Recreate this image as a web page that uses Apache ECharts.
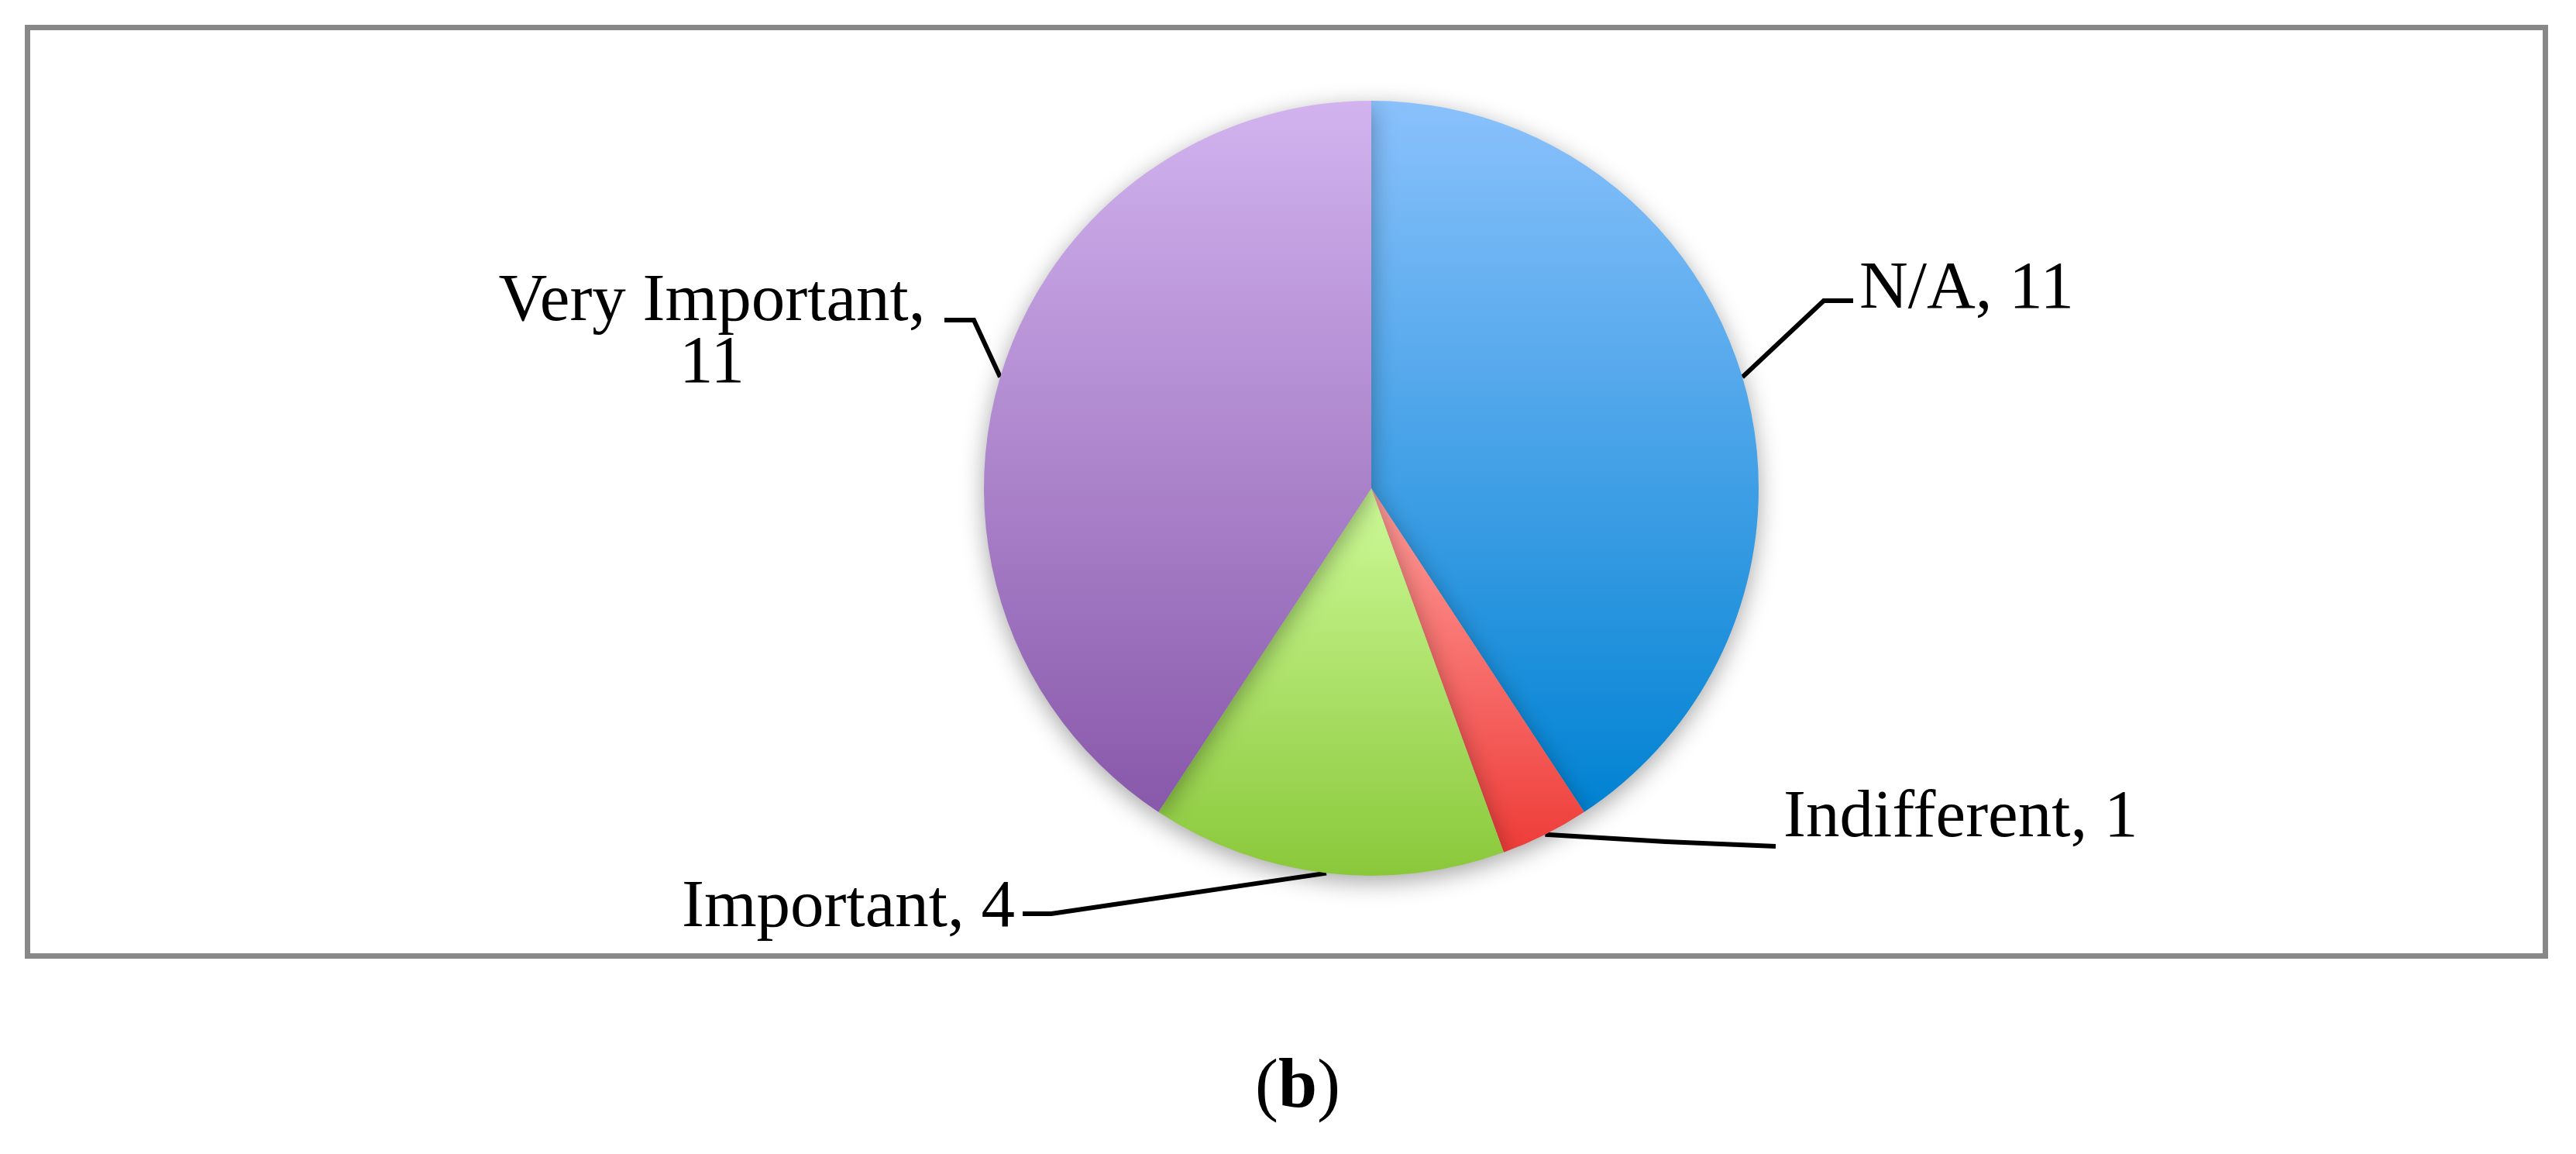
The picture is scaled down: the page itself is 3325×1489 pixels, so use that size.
<!DOCTYPE html>
<html>
<head>
<meta charset="utf-8">
<script src="https://cdn.jsdelivr.net/npm/echarts@6/dist/echarts.min.js"></script>
<style>
  html, body { margin: 0; padding: 0; background: #fff; }
  #chart { width: 3325px; height: 1489px; }
</style>
</head>
<body>
<div id="chart"></div>
<script>
// data
var categories = ['N/A', 'Indifferent', 'Important', 'Very Important'];
var counts = [11, 1, 4, 11];
var labelTexts = ['N/A, 11', 'Indifferent, 1', 'Important, 4', 'Very Important,\n11'];

// slice colours, top -> bottom of each slice
var topColors = ['#8AC1FC', '#FF9C9A', '#CDFA98', '#D2B3EF'];
var bottomColors = ['#0082D2', '#EE3C38', '#8AC83A', '#8858AA'];

// where each label sits (text anchor + elbow points of its leader line)
var labelPlaces = [
  { x: 2400, y: 374, align: 'left', elbow: [2354, 388], end: [2392, 388] },
  { x: 2302, y: 1056, align: 'left', elbow: [2150, 1086], end: [2292, 1092] },
  { x: 1310, y: 1172, align: 'right', elbow: [1357, 1179], end: [1320, 1179] },
  { x: 919, y: 430, align: 'center', elbow: [1257, 413], end: [1219, 413] }
];

var chart = echarts.init(document.getElementById('chart'));

var seriesData = categories.map(function (name, i) {
  return {
    name: name,
    value: counts[i],
    itemStyle: {
      color: new echarts.graphic.LinearGradient(0, 0, 0, 1, [
        { offset: 0, color: topColors[i] },
        { offset: 1, color: bottomColors[i] }
      ])
    },
    label: { formatter: labelTexts[i] }
  };
});

var option = {
  animation: false,
  backgroundColor: '#fff',
  graphic: [
    {
      type: 'rect',
      shape: { x: 35.5, y: 35.5, width: 3250, height: 1198 },
      style: { fill: 'none', stroke: '#888888', lineWidth: 7 },
      z: -1
    },
    {
      type: 'text',
      left: 1620,
      top: 1360,
      style: {
        text: '{n|(}{b|b}{n|)}',
        rich: {
          n: { fontFamily: 'Liberation Serif', fontSize: 90, fill: '#000' },
          b: { fontFamily: 'Liberation Serif', fontSize: 90, fontWeight: 'bold', fill: '#000' }
        }
      }
    }
  ],
  series: [
    {
      type: 'pie',
      center: [1770, 630],
      radius: 500,
      startAngle: 90,
      clockwise: true,
      avoidLabelOverlap: false,
      itemStyle: {
        shadowBlur: 30,
        shadowOffsetY: 8,
        shadowColor: 'rgba(0,0,0,0.35)'
      },
      label: {
        show: true,
        position: 'outside',
        fontFamily: 'Liberation Serif',
        fontSize: 87,
        lineHeight: 80,
        color: '#000'
      },
      labelLine: {
        show: true,
        lineStyle: { color: '#000', width: 6 }
      },
      labelLayout: function (params) {
        var p = labelPlaces[params.dataIndex];
        var start = params.labelLinePoints ? params.labelLinePoints[0] : p.elbow;
        return {
          x: p.x,
          y: p.y,
          align: p.align,
          verticalAlign: 'middle',
          labelLinePoints: [start, p.elbow, p.end]
        };
      },
      data: seriesData
    }
  ]
};

chart.setOption(option);
</script>
</body>
</html>
